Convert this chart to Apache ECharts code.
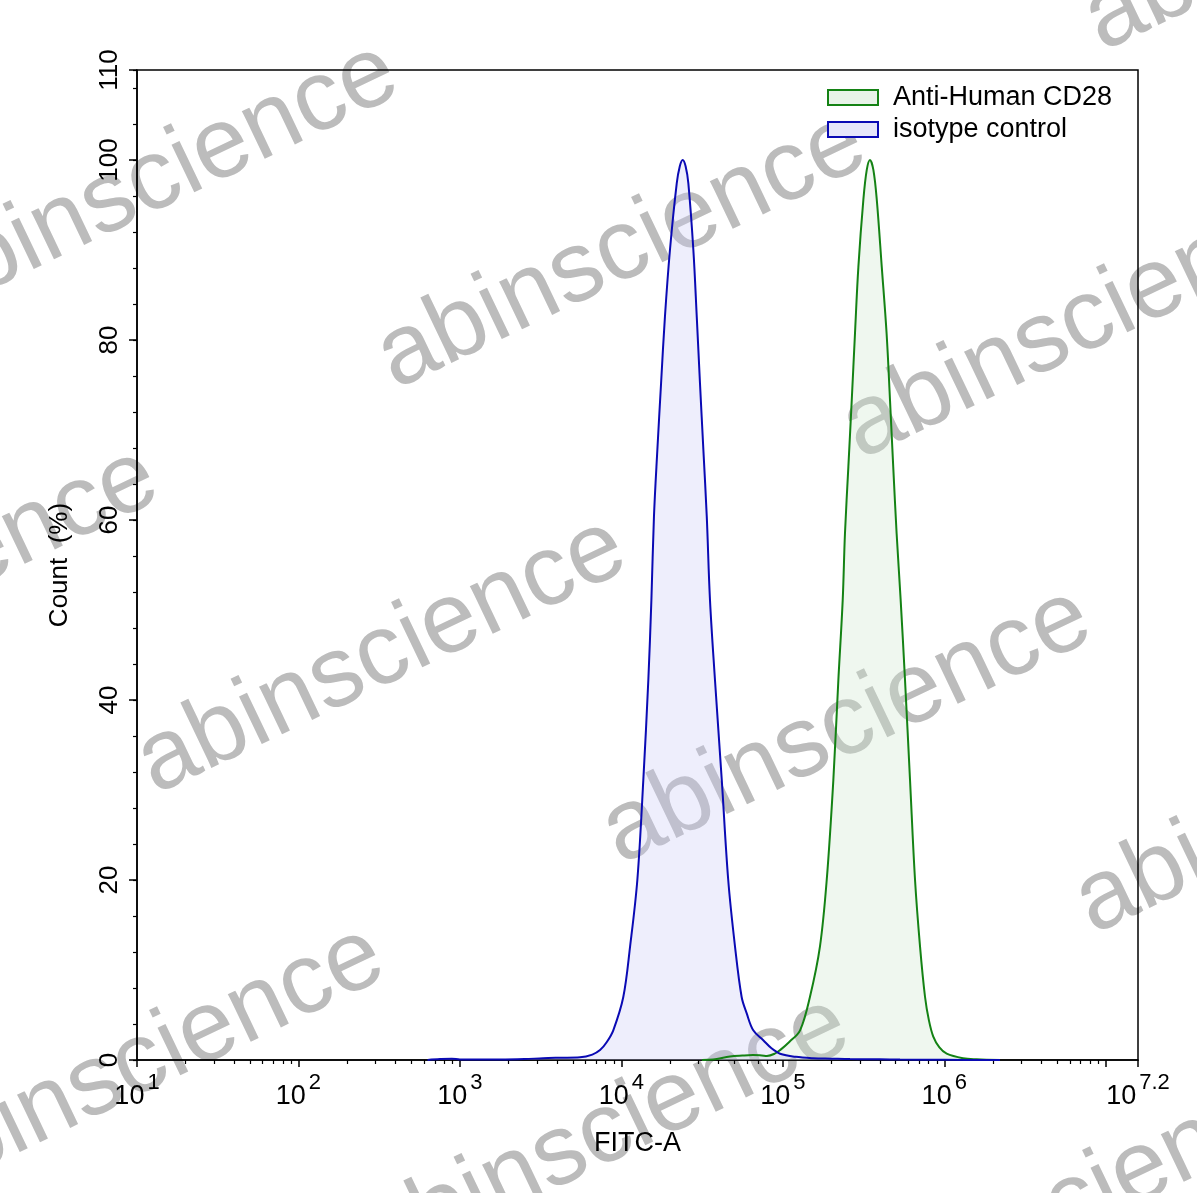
<!DOCTYPE html>
<html><head><meta charset="utf-8">
<script src="https://cdn.jsdelivr.net/npm/echarts@6/dist/echarts.min.js"></script>
<style>html,body{margin:0;padding:0;background:#fff}#c{width:1197px;height:1193px}</style>
</head><body><div id="c"></div>
<script>
// ---- data (x values are log10 of FITC-A intensity, y values are Count %) ----
const seriesNames = ['Anti-Human CD28', 'isotype control'];
const xTickExponents = [1, 2, 3, 4, 5, 6, 7.2];
const xMinorMultipliers = [2, 3, 4, 5, 6, 7, 8, 9];
const yTickValues = [0, 20, 40, 60, 80, 100, 110];

const isoLogFITC = [2.80, 2.877, 2.95, 3.00, 3.10, 3.248, 3.40, 3.515, 3.62, 3.744, 3.82, 3.868, 3.91, 3.950, 4.012, 4.054, 4.099, 4.136, 4.167, 4.186, 4.202, 4.223, 4.246, 4.270, 4.301, 4.343, 4.362, 4.380, 4.398, 4.415, 4.446, 4.467, 4.487, 4.508, 4.529, 4.549, 4.580, 4.622, 4.662, 4.704, 4.745, 4.776, 4.817, 4.879, 4.93, 4.983, 5.08, 5.187, 5.30, 5.416, 5.60, 5.726, 6.0, 6.345];
const isoCount = [0, 0.1, 0.15, 0.05, 0.05, 0.05, 0.1, 0.2, 0.25, 0.3, 0.6, 1.1, 2.0, 3.3, 7.0, 12.6, 20, 31.1, 42.2, 51.1, 60.4, 67.8, 75.2, 82.6, 90, 97.4, 99.3, 100, 99.3, 97.4, 90, 82.6, 75.2, 67.8, 60.4, 51.1, 42.2, 31.1, 20, 12.6, 7.0, 5.2, 3.3, 2.2, 1.3, 0.7, 0.35, 0.2, 0.15, 0.1, 0.08, 0.05, 0.02, 0];

const cd28LogFITC = [4.50, 4.568, 4.673, 4.75, 4.815, 4.87, 4.902, 4.95, 4.983, 5.04, 5.107, 5.168, 5.230, 5.272, 5.313, 5.344, 5.371, 5.385, 5.406, 5.427, 5.447, 5.468, 5.499, 5.520, 5.540, 5.561, 5.582, 5.613, 5.643, 5.664, 5.684, 5.705, 5.730, 5.757, 5.788, 5.819, 5.850, 5.881, 5.905, 5.932, 5.97, 6.015, 6.116, 6.20, 6.345];
const cd28Count = [0, 0.05, 0.4, 0.5, 0.55, 0.5, 0.45, 0.7, 1.1, 2.0, 3.3, 7.0, 12.6, 20, 31.1, 42.2, 51.1, 58.5, 65.9, 73.3, 80.7, 88.1, 95.6, 98.9, 100, 98.9, 95.6, 88.1, 80.7, 73.3, 65.9, 58.5, 51.1, 42.2, 31.1, 20, 12.6, 7, 4.4, 2.6, 1.4, 0.7, 0.2, 0.08, 0];

// ---- build ----
const FONT = 'Liberation Sans, Arial, sans-serif';
const pair = (xs, ys) => xs.map((x, i) => [x, ys[i]]);
const xMinorTicks = [];
for (let d = 1; d < 7.2; d++) xMinorMultipliers.forEach(m => { const v = d + Math.log10(m); if (v < 7.2) xMinorTicks.push(v); });

const wmRot = 25.5 * Math.PI / 180;
const wmOff = [20, 25];
const wmPos = [[-83,315],[385,385],[850,455],[1092,47],[-323,720],[145,790],[610,860],[1083,930],[-97,1198],[368,1268],[836,1338]];

const chart = echarts.init(document.getElementById('c'), null, {renderer: 'canvas'});
chart.setOption({
  animation: false,
  backgroundColor: '#fff',
  textStyle: {fontFamily: FONT, color: '#000'},
  grid: {left: 137, right: 59, top: 70, bottom: 133, show: true, borderColor: '#000', borderWidth: 1.5, backgroundColor: 'transparent'},
  legend: {
    orient: 'vertical', left: 822, top: 79, itemWidth: 50, itemHeight: 15, itemGap: 5,
    textStyle: {fontSize: 27, color: '#000', fontFamily: FONT, padding: [0, 0, 0, 10]},
    data: [
      {name: seriesNames[0], icon: 'rect', itemStyle: {color: '#e8f3e8', borderColor: '#148214', borderWidth: 2}},
      {name: seriesNames[1], icon: 'rect', itemStyle: {color: '#e6e6fa', borderColor: '#0a0ab4', borderWidth: 2}}
    ]
  },
  xAxis: [{
    type: 'value', min: 1, max: 7.2, interval: 1,
    axisLine: {show: true, onZero: false, lineStyle: {color: '#000', width: 1.5}},
    axisTick: {show: true, inside: false, length: 7, lineStyle: {color: '#000', width: 1.5}},
    splitLine: {show: false},
    axisLabel: {
      margin: 18, showMaxLabel: true, showMinLabel: true,
      formatter: v => {
        if (Math.abs(v - 7) < 1e-6) return '';
        const e = xTickExponents.find(t => Math.abs(t - v) < 1e-6);
        if (e === undefined) return '';
        return '{b|10}{s|' + (Number.isInteger(e) ? e : e.toFixed(1)) + '}';
      },
      rich: {
        b: {fontSize: 27, fontFamily: FONT, color: '#000', lineHeight: 32, verticalAlign: 'bottom'},
        s: {fontSize: 22, fontFamily: FONT, color: '#000', verticalAlign: 'bottom', lineHeight: 22, padding: [0, 0, 16, 3]}
      }
    },
    name: 'FITC-A', nameLocation: 'middle', nameGap: 70,
    nameTextStyle: {fontSize: 27, color: '#000', fontFamily: FONT}
  }, {
    type: 'value', min: 1, max: 7.2, position: 'bottom', gridIndex: 0,
    axisLine: {show: false}, axisLabel: {show: false}, splitLine: {show: false},
    axisTick: {show: true, length: 4, customValues: xMinorTicks, lineStyle: {color: '#000', width: 1.2}}
  }],
  yAxis: [{
    type: 'value', min: 0, max: 110, interval: 20,
    axisLine: {show: true, onZero: false, lineStyle: {color: '#000', width: 1.5}},
    axisTick: {show: true, length: 8, lineStyle: {color: '#000', width: 1.5}},
    splitLine: {show: false},
    axisLabel: {rotate: 90, fontSize: 26, margin: 14, color: '#000', fontFamily: FONT,
      formatter: v => yTickValues.includes(v) ? String(v) : ''},
    name: 'Count  (%)', nameLocation: 'middle', nameRotate: 90, nameGap: 64,
    nameTextStyle: {fontSize: 26, color: '#000', fontFamily: FONT}
  }, {
    type: 'value', min: 0, max: 110, interval: 4, position: 'left',
    axisLine: {show: false}, axisLabel: {show: false}, splitLine: {show: false},
    axisTick: {show: true, length: 4, lineStyle: {color: '#000', width: 1.2}}
  }],
  graphic: wmPos.map(p => ({
    type: 'text', x: p[0] + wmOff[0], y: p[1] + wmOff[1], rotation: wmRot, z: -1, silent: true,
    style: {text: 'abinscience', fontSize: 100, fontFamily: FONT, fill: 'rgb(188,188,188)', align: 'left', verticalAlign: 'bottom'}
  })),
  series: [{
    name: seriesNames[0], type: 'line', xAxisIndex: 0, yAxisIndex: 0,
    data: pair(cd28LogFITC, cd28Count), smooth: 0.35, symbol: 'none', z: 3,
    itemStyle: {color: '#148214'},
    lineStyle: {color: '#148214', width: 2},
    areaStyle: {color: 'rgba(205,230,205,0.45)', origin: 'start'}
  }, {
    name: seriesNames[1], type: 'line', xAxisIndex: 0, yAxisIndex: 0,
    data: pair(isoLogFITC, isoCount), smooth: 0.35, symbol: 'none', z: 3,
    itemStyle: {color: '#0a0ab4'},
    lineStyle: {color: '#0a0ab4', width: 2},
    areaStyle: {color: 'rgba(200,200,245,0.45)', origin: 'start'}
  }]
});
</script></body></html>
